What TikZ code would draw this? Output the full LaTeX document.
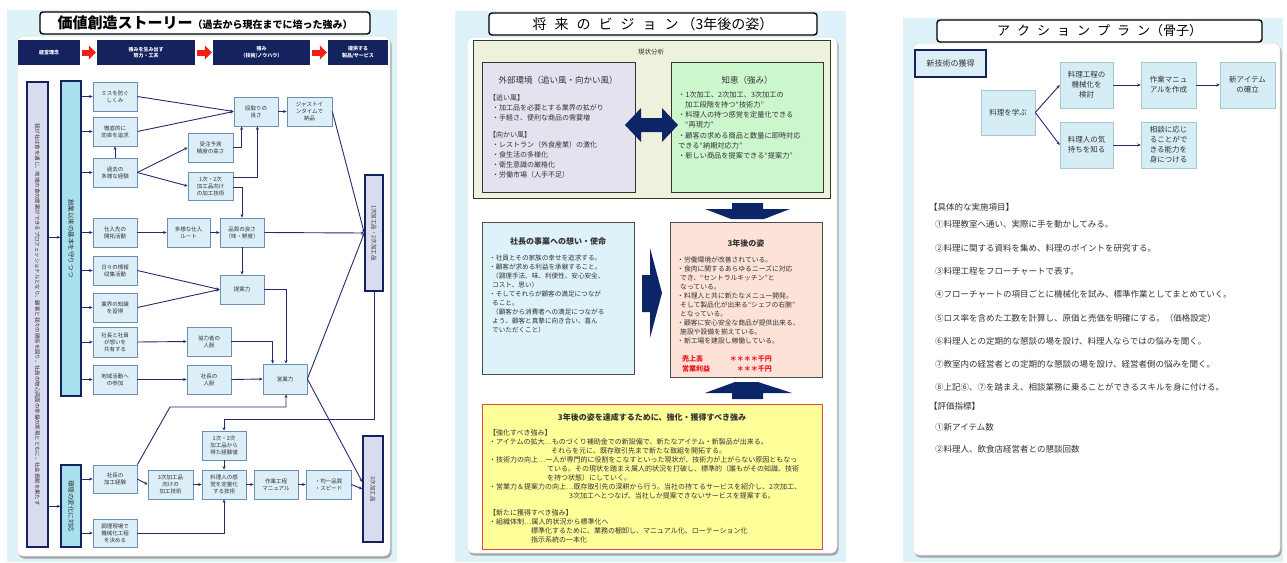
\documentclass[tikz,border=0pt]{standalone}
\usepackage{fontspec}
\setmainfont{Noto Sans CJK JP}
\usetikzlibrary{arrows.meta,calc}
\newcommand\fs[2]{\fontsize{#1}{#2}\selectfont}
\newcommand\pbox[7]{\node[#1,minimum width={(#5)-(#3)},minimum height={(#6)-(#4)}] (#2) at ({((#3)+(#5))/2},{((#4)+(#6))/2}) {#7};}
\newcommand\lsA{\hspace{8pt}}
\newcommand\lsB{\hspace{7pt}}
\definecolor{cyanbg}{HTML}{DDF3F9}
\definecolor{navy}{HTML}{14235E}
\definecolor{bnavy}{HTML}{0C2468}
\definecolor{lnc}{HTML}{262A6E}
\definecolor{bfill}{HTML}{DCEEF8}
\definecolor{bedge}{HTML}{6F8DB0}
\definecolor{lavL}{HTML}{D8DCEE}
\definecolor{cyC}{HTML}{A8E0EE}
\definecolor{redc}{HTML}{EE2018}
\definecolor{txt}{HTML}{333333}
\definecolor{beige}{HTML}{EEF1DC}
\definecolor{dgreen}{HTML}{26402A}
\definecolor{lav}{HTML}{E6E1EE}
\definecolor{lgreen}{HTML}{CCF7CC}
\definecolor{lcyan}{HTML}{DDF3F9}
\definecolor{peach}{HTML}{FDE2D8}
\definecolor{yel}{HTML}{FFFF99}
\definecolor{yedge}{HTML}{E8473F}
\definecolor{p3fill}{HTML}{D5EEF6}
\definecolor{p3edge}{HTML}{A9C6D6}
\definecolor{redtxt}{HTML}{F0141E}
\tikzset{
  b1/.style={draw=bedge,fill=bfill,line width=0.7pt,inner sep=0.5pt,align=center,text=txt,font=\fs{5.5}{7}},
  vL/.style={draw=navy,fill=lavL,line width=1.4pt,inner sep=0pt},
  vC/.style={draw=navy,fill=cyC,line width=1.4pt,inner sep=0pt},
  vR/.style={draw=navy,fill=lavL,line width=1.4pt,inner sep=0pt},
  hd/.style={fill=navy,inner sep=0pt,align=center,text=white,font=\fs{5}{6.5}\bfseries},
  arr/.style={draw=lnc,line width=0.9pt,-{Stealth[length=3.5pt,width=3pt]}},
  redarr/.style={draw=redc,line width=6pt,-{Triangle[length=7pt,width=14pt]}},
  ttl/.style={draw=black,line width=1.4pt,rounded corners=3pt,fill=white,inner sep=0pt},
  txtn/.style={inner sep=0pt,anchor=north west,align=left,text=txt},
  p2box/.style={draw=black!80,line width=0.8pt,inner sep=0pt},
  p3b/.style={draw=p3edge,fill=p3fill,line width=0.5pt,inner sep=0.5pt,align=center,text=txt,font=\fs{7.5}{10}},
  p3h/.style={draw=navy,fill=bfill,line width=1.6pt,inner sep=0.5pt,align=center,text=txt,font=\fs{8}{10}},
  panel/.style={fill=white,draw=black!15,line width=0.5pt,rounded corners=6pt},
  shadow/.style={fill=black!35,rounded corners=6pt}
}
\begin{document}
\begin{tikzpicture}[x=1pt,y=-1pt]
\useasboundingbox (0,0) rectangle (1287,562);
\fill[white] (0,0) rectangle (1287,562);
% ---------- backgrounds ----------
\fill[cyanbg] (7,10) rectangle (397,562);
\fill[cyanbg] (455,11) rectangle (846,562);
\fill[cyanbg] (903,18) rectangle (1283,562);
\fill[shadow] (18.5,38.5) rectangle (391.5,558.5);
\draw[panel] (17,36) rectangle (390,556);
\fill[shadow] (468.5,39.5) rectangle (838.5,555.5);
\draw[panel] (467,37) rectangle (837,553);
\fill[shadow] (914.5,45.5) rectangle (1281.5,557.5);
\draw[panel] (913,43) rectangle (1280,555);
% ---------- titles ----------
\node[ttl,minimum width=330,minimum height=22] (t1) at (205,23)
  {{\fs{15}{17}\bfseries 価値創造ストーリー}{\fs{10}{12}\bfseries （過去から現在までに培った強み）}};
\node[ttl,minimum width=328,minimum height=22] (t2) at (653,24)
  {\fs{14}{16}将\lsA 来\lsA の\lsA ビ\lsA ジ\lsA ョ\lsA ン\hspace{3pt}（3年後の姿）};
\node[ttl,minimum width=325,minimum height=22] (t3) at (1099.5,31)
  {\fs{13}{15}ア\lsB ク\lsB シ\lsB ョ\lsB ン\lsB プ\lsB ラ\lsB ン（骨子）};
% ================= PANEL 1 =================
\pbox{hd}{h1}{18}{40}{80}{65}{経営理念}
\pbox{hd}{h2}{97}{40}{195}{65}{強みを生み出す\\努力・工夫}
\pbox{hd}{h3}{213}{40}{310}{65}{強み\\（技術/ノウハウ）}
\pbox{hd}{h4}{328}{40}{388}{65}{提供する\\製品/サービス}
\draw[redarr] ($(h1.east)+(2,0)$) -- ($(h2.west)+(-1,0)$);
\draw[redarr] ($(h2.east)+(2,0)$) -- ($(h3.west)+(-1,0)$);
\draw[redarr] ($(h3.east)+(2,0)$) -- ($(h4.west)+(-1,0)$);

\pbox{vL}{L}{27}{82}{48}{547}{}
\pbox{vC}{C1}{61}{81}{81}{396}{}
\pbox{vC}{C2}{61}{465}{81}{547}{}
\pbox{vR}{R1}{365}{175}{383}{291}{}
\pbox{vR}{R2}{363}{436}{383}{542}{}
\node[rotate=-90,inner sep=0pt,text=txt,font=\fs{5.4}{6}] (Lt) at (L) {我が社は食を通じ、地域の食の提案ができるプロフェッショナルとなり、顧客と我々の関係を図り、社員の物心両面の幸福の実現とともに、社会貢献を果たす};
\node[rotate=-90,inner sep=0pt,text=txt,font=\fs{6.5}{7}] (C1t) at (C1) {創業以来の基本を守りつつ};
\node[rotate=-90,inner sep=0pt,text=txt,font=\fs{6.5}{7}] (C2t) at (C2) {環境の変化に対応};
\node[rotate=-90,inner sep=0pt,text=txt,font=\fs{5.5}{6}] (R1t) at (R1) {1次加工品・2次加工品};
\node[rotate=-90,inner sep=0pt,text=txt,font=\fs{5.5}{6}] (R2t) at (R2) {3次加工品};

\pbox{b1}{mis}{93}{82}{137}{111}{ミスを防ぐ\\しくみ}
\pbox{b1}{tet}{93}{117}{137}{146}{徹底的に\\効率を追求}
\pbox{b1}{kako}{93}{158}{137}{187}{過去の\\多様な経験}
\pbox{b1}{shi}{93}{218}{137}{247}{仕入先の\\開拓活動}
\pbox{b1}{hib}{93}{256}{137}{285}{日々の情報\\収集活動}
\pbox{b1}{gyo}{93}{293}{137}{322}{業界の知識\\を習得}
\pbox{b1}{sha}{93}{327}{137}{357}{社長と社員\\が想いを\\共有する}
\pbox{b1}{chi}{93}{365}{137}{394}{地域活動へ\\の参加}
\pbox{b1}{juchu}{188}{133}{233}{162}{受注予測\\精度の高さ}
\pbox{b1}{k12}{188}{172}{233}{200}{1次・2次\\加工品向け\\の加工技術}
\pbox{b1}{tay}{167}{218}{210}{247}{多様な仕入\\ルート}
\pbox{b1}{dan}{234}{97}{278}{126}{段取りの\\良さ}
\pbox{b1}{jit}{287}{97}{332}{126}{ジャストイ\\ンタイムで\\納品}
\pbox{b1}{hin}{220}{218}{264}{247}{品質の良さ\\（味・鮮度）}
\pbox{b1}{tei}{220}{275}{264}{304}{提案力}
\pbox{b1}{kyo}{187}{327}{231}{356}{協力者の\\人脈}
\pbox{b1}{shj}{187}{365}{231}{394}{社長の\\人脈}
\pbox{b1}{eig}{263}{364}{307}{394}{営業力}
\pbox{b1}{kei}{202}{431}{246}{460}{1次・2次\\加工品から\\得た経験値}
\pbox{b1}{skk}{93}{465}{137}{493}{社長の\\加工経験}
\pbox{b1}{k3}{148}{470}{193}{499}{3次加工品\\向けの\\加工技術}
\pbox{b1}{ryo}{202}{470}{246}{499}{料理人の感\\覚を定量化\\する技術}
\pbox{b1}{sag}{254}{470}{298}{499}{作業工程\\マニュアル}
\pbox{b1}{kin}{306}{470}{351}{499}{・均一品質\\・スピード}
\pbox{b1}{cho}{93}{519}{137}{547}{調理現場で\\機械化工程\\を決める}
\coordinate (bend) at (170,407);

\begin{scope}
\draw[arr] (mis.east) -- (dan.west);
\draw[arr] (tet.east) -- (dan.west);
\draw[arr] (kako.north) -- (tet.south);
\draw[arr] (kako.east) -- (juchu.west);
\draw[arr] (kako.east) -- (k12.west);
\draw[arr] (juchu.east) -| ($(dan.south west)+(8,0)$);
\draw[arr] ($(k12.east)+(0,-9)$) -| ($(dan.south east)+(-21,0)$);
\draw[arr] ($(k12.east)+(0,1)$) -| (hin.north);
\draw[arr] (dan.east) -- (jit.west);
\draw[arr] (jit.east) -- (R1.west);
\draw[arr] (shi.east) -- (tay.west);
\draw[arr] (tay.east) -- (hin.west);
\draw[arr] (hin.east) -- (R1.west);
\draw[arr] (hin.south) -- (tei.north);
\draw[arr] (hib.east) -- (tei.west);
\draw[arr] (gyo.east) -- (tei.west);
\draw[arr] (tei.east) -| ($(eig.north)+(1,0)$);
\draw[arr] (sha.east) -- (kyo.west);
\draw[arr] (chi.east) -- (shj.west);
\draw[arr] (kyo.east) -| ($(eig.north west)+(10,0)$);
\draw[arr] (shj.east) -- (eig.west);
\draw[arr] (skk.north east) -- (bend) -| ($(eig.south)+(1,0)$);
\draw[arr] (eig.east) -- (R1.west);
\draw[arr] (eig.east) -- ($(R2.west)+(0,-7)$);
\draw[arr] (R1.south) -- ++(0,128) -| (kei.north);
\draw[arr] (kei.south) -- (ryo.north);
\draw[arr] (skk.east) -- (k3.west);
\draw[arr] (k3.east) -- (ryo.west);
\draw[arr] (ryo.east) -- (sag.west);
\draw[arr] (sag.east) -- (kin.west);
\draw[arr] (kin.east) -- (R2.west);
\draw[arr] (cho.east) -| (ryo.south);
\draw[arr] ($(L.north east)+(0,156)$) -- ($(C1.north west)+(0,157)$);
\draw[arr] ($(L.north east)+(0,425)$) -- ($(C2.north west)+(0,42)$);
\foreach \n in {mis,tet,kako,shi,hib,gyo,sha,chi} \draw[arr] (C1.east |- \n) -- (\n.west);
\foreach \n in {skk,cho} \draw[arr] (C2.east |- \n) -- (\n.west);
\end{scope}

% ================= PANEL 2 =================
\pbox{p2box,fill=beige,draw=dgreen,line width=1pt}{gen}{473}{40}{830}{198}{}
\node[inner sep=0pt,text=txt,font=\fs{6.5}{8}] (genT) at (651,52) {現状分析};
\pbox{p2box,fill=lav}{ext}{482}{62}{635}{192}{}
\pbox{p2box,fill=lgreen}{chie}{671}{62}{823}{192}{}
\node[inner sep=0pt,text=txt,font=\fs{8.5}{10}] (extT) at (558,80) {外部環境（追い風・向かい風）};
\node[txtn,font=\fs{7}{10}] (extA) at (489,94) {【追い風】\\\hspace*{3pt}・加工品を必要とする業界の拡がり\\\hspace*{3pt}・手軽さ、便利な商品の需要増};
\node[txtn,font=\fs{7}{10.2}] (extB) at (489,131) {【向かい風】\\\hspace*{3pt}・レストラン（外食産業）の激化\\\hspace*{3pt}・食生活の多様化\\\hspace*{3pt}・衛生意識の厳格化\\\hspace*{3pt}・労働市場（人手不足）};
\node[inner sep=0pt,text=txt,font=\fs{8.5}{10}] (chieT) at (747,80) {知恵（強み）};
\node[txtn,font=\fs{7.2}{10.2}] (chieA) at (678,91) {・1次加工、2次加工、3次加工の\\\hspace*{7pt}加工段階を持つ“技術力”\\・料理人の持つ感覚を定量化できる\\\hspace*{7pt}“再現力”\\・顧客の求める商品と数量に即時対応\\できる“納期対応力”\\・新しい商品を提案できる“提案力”};
% double arrow
\fill[bnavy] (625,125) -- (641,108) -- (641,118) -- (662,118) -- (662,108) -- (678,125) -- (662,142) -- (662,132) -- (641,132) -- (641,142) -- cycle;
% down arrow
\fill[bnavy] (732,203) -- (763,203) -- (763,209) -- (790,209) -- (764,219) -- (731,219) -- (705,209) -- (732,209) -- cycle;

\pbox{p2box,fill=lcyan,draw=black!70}{omoi}{482}{222}{634}{374}{}
\node[inner sep=0pt,text=txt,font=\fs{8}{10}\bfseries] (omoiT) at (558,241) {社長の事業への想い・使命};
\node[txtn,font=\fs{6.6}{9}] (omoiA) at (489,255) {・社員とその家族の幸せを追求する。\\・顧客が求める利益を承継すること。\\\hspace*{3pt}（調理手法、味、利便性、安心安全、\\\hspace*{3pt}コスト、思い）\\・そしてそれらが顧客の満足につなが\\\hspace*{3pt}ること。\\\hspace*{3pt}（顧客から消費者への満足につながる\\\hspace*{3pt}よう、顧客と真摯に向き合い、喜ん\\\hspace*{3pt}でいただくこと）};
% right arrow
\fill[bnavy] (642,275) -- (650,275) -- (650,248) -- (662,293) -- (650,338) -- (650,312) -- (642,312) -- cycle;

\pbox{p2box,fill=peach,draw=black!70}{fut}{670}{222}{822}{377}{}
\node[inner sep=0pt,text=txt,font=\fs{8}{10}\bfseries] (futT) at (746,243) {3年後の姿};
\node[txtn,font=\fs{6.8}{8.9}] (futA) at (677,257) {・労働環境が改善されている。\\・食肉に関するあらゆるニーズに対応\\\hspace*{3pt}でき、“セントラルキッチン”と\\\hspace*{3pt}なっている。\\・料理人と共に新たなメニュー開発。\\\hspace*{3pt}そして製品化が出来る“シェフの右腕”\\\hspace*{3pt}となっている。\\・顧客に安心安全な商品が提供出来る、\\\hspace*{3pt}施設や設備を揃えている。\\・新工場を建設し稼働している。};
\node[inner sep=0pt,anchor=west,text=redtxt,font=\fs{7}{8}\bfseries] (uri) at (682,359) {売上高};
\node[inner sep=0pt,anchor=east,text=redtxt,font=\fs{7}{8}\bfseries] (uriV) at (772,359) {＊＊＊＊千円};
\node[inner sep=0pt,anchor=west,text=redtxt,font=\fs{7}{8}\bfseries] (eri) at (682,369) {営業利益};
\node[inner sep=0pt,anchor=east,text=redtxt,font=\fs{7}{8}\bfseries] (eriV) at (772,369) {＊＊＊千円};
% up arrow
\fill[bnavy] (735,382) -- (758,382) -- (792,393) -- (763,393) -- (763,399) -- (732,399) -- (732,393) -- (705,393) -- cycle;

\pbox{p2box,fill=yel,draw=yedge,line width=1pt}{yb}{482}{404}{822}{549}{}
\node[inner sep=0pt,text=txt,font=\fs{8}{10}\bfseries] (ybT) at (652,417) {3年後の姿を達成するために、強化・獲得すべき強み};
\node[txtn,font=\fs{7}{9}] (ybA) at (489,429) {【強化すべき強み】\\・アイテムの拡大…ものづくり補助金での新設備で、新たなアイテム・新製品が出来る。\\\hspace*{62pt}それらを元に、既存取引先まで新たな取組を開拓する。\\・技術力の向上…一人が専門的に役割をこなすといった現状が、技術力が上がらない原因ともなっ\\\hspace*{58pt}ている。その現状を踏まえ属人的状況を打破し、標準的（誰もがその知識、技術\\\hspace*{58pt}を持つ状態）にしていく。\\・営業力＆提案力の向上…既存取引先の深耕から行う。当社の持てるサービスを紹介し、2次加工、\\\hspace*{80pt}3次加工へとつなげ、当社しか提案できないサービスを提案する。};
\node[txtn,font=\fs{7}{9}] (ybB) at (489,509) {【新たに獲得すべき強み】\\・組織体制…属人的状況から標準化へ\\\hspace*{42pt}標準化するために、業務の棚卸し、マニュアル化、ローテーション化\\\hspace*{42pt}指示系統の一本化};

% ================= PANEL 3 =================
\pbox{p3h}{shin}{915}{50}{986}{77}{新技術の獲得}
\pbox{p3b}{manabu}{981}{90}{1035}{135}{料理を学ぶ}
\pbox{p3b}{kikai}{1060}{62}{1113}{108}{料理工程の\\機械化を\\検討}
\pbox{p3b}{manual}{1141}{62}{1196}{108}{作業マニュ\\アルを作成}
\pbox{p3b}{newit}{1220}{62}{1275}{108}{新アイテム\\の確立}
\pbox{p3b}{kimo}{1060}{122}{1113}{168}{料理人の気\\持ちを知る}
\pbox{p3b}{soud}{1141}{122}{1196}{168}{相談に応じ\\ることがで\\きる能力を\\身につける}
\draw[arr] (manabu.east) -- (kikai.west);
\draw[arr] (manabu.east) -- (kimo.west);
\draw[arr] (kikai.east) -- (manual.west);
\draw[arr] (manual.east) -- (newit.west);
\draw[arr] (kimo.east) -- (soud.west);

\node[txtn,font=\fs{8.5}{10}] (gutai) at (929,203.5) {【具体的な実施項目】};
\node[txtn,font=\fs{8.5}{23.3}] (items) at (935,220.5) {①料理教室へ通い、実際に手を動かしてみる。\\②料理に関する資料を集め、料理のポイントを研究する。\\③料理工程をフローチャートで表す。\\④フローチャートの項目ごとに機械化を試み、標準作業としてまとめていく。\\⑤ロス率を含めた工数を計算し、原価と売価を明確にする。（価格設定）\\⑥料理人との定期的な懇談の場を設け、料理人ならではの悩みを聞く。\\⑦教室内の経営者との定期的な懇談の場を設け、経営者側の悩みを聞く。\\⑧上記⑥、⑦を踏まえ、相談業務に乗ることができるスキルを身に付ける。};
\node[txtn,font=\fs{8.5}{10}] (hyoka) at (929,402.5) {【評価指標】};
\node[txtn,font=\fs{8.5}{22}] (hitems) at (935,423.5) {①新アイテム数\\②料理人、飲食店経営者との懇談回数};
\end{tikzpicture}
\end{document}
